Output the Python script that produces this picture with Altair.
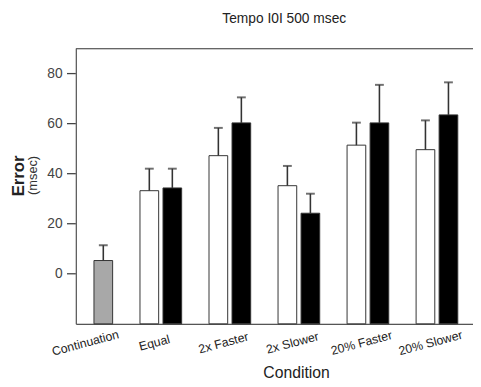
import altair as alt
import pandas as pd

conditions = ["Continuation", "Equal", "2x Faster", "2x Slower", "20% Faster", "20% Slower"]
# first series (white bars); Continuation has none
white_mean = [None, 33.2, 47.2, 35.2, 51.4, 49.6]
white_err = [None, 8.8, 11.1, 7.9, 9.0, 11.7]
# second series (black bars); Continuation drawn in gray in this slot
black_mean = [5.3, 34.3, 60.3, 24.2, 60.3, 63.5]
black_err = [6.1, 7.7, 10.2, 7.8, 15.2, 13.0]
y_ticks = [0, 20, 40, 60, 80]

rows = []
for i, c in enumerate(conditions):
    if white_mean[i] is not None:
        rows.append({"cond": c, "pos": i - 1 / 6, "group": "A",
                     "mean": white_mean[i], "top": white_mean[i] + white_err[i]})
    g = "C" if i == 0 else "B"
    rows.append({"cond": c, "pos": i + 1 / 6, "group": g,
                 "mean": black_mean[i], "top": black_mean[i] + black_err[i]})
df = pd.DataFrame(rows)

label_expr = "[" + ",".join("'" + c + "'" for c in conditions) + "][datum.value]"

xscale = alt.Scale(domain=[-0.16, 5.451], nice=False, zero=False)
yscale = alt.Scale(domain=[-20, 90], nice=False, zero=False)

x_axis = alt.Axis(
    values=list(range(len(conditions))), labelExpr=label_expr, labelAngle=345,
    ticks=False, grid=False, labelAlign="center", labelBaseline="middle",
    labelPadding=19, labelOffset=-7, labelFontSize=12.5, labelColor="#222",
    domainColor="#555", domainWidth=1.2,
    title="Condition", titleFontSize=16, titleFontWeight="normal", titleColor="#222",
    titleX=224, titleY=50, titleBaseline="middle", titleAlign="center")

y_axis = alt.Axis(
    values=y_ticks, ticks=False, labelPadding=14, labelFontSize=14,
    labelColor="#444", domainColor="#555", domainWidth=1.2,
    grid=False, title="Error", titleFontSize=17, titleFontWeight="bold",
    titleColor="#222", titleAngle=270, titleX=-58, titleY=129,
    titleAlign="center", titleBaseline="middle")

def X(f):
    return alt.X(f, scale=xscale, axis=x_axis)

def Y(f):
    return alt.Y(f, scale=yscale, axis=y_axis)

bars = alt.Chart(df).mark_bar(width=19, stroke="#333", strokeWidth=1).encode(
    x=X("pos:Q"), y=Y("mean:Q"), y2=alt.datum(-20),
    fill=alt.Fill("group:N", scale=alt.Scale(domain=["A", "B", "C"],
                                             range=["#ffffff", "#000000", "#a8a8a8"]),
                  legend=None))

stems = alt.Chart(df).mark_rule(color="#333", strokeWidth=1.6).encode(
    x=X("pos:Q"), y=Y("mean:Q"), y2="top:Q")

caps = alt.Chart(df).mark_tick(orient="horizontal", size=9, thickness=2, color="#333").encode(
    x=X("pos:Q"), y=Y("top:Q"))

border = alt.Chart(pd.DataFrame({"v": [90]})).mark_rule(color="#666", strokeWidth=1.2).encode(
    y=Y("v:Q"))

yticks = alt.Chart(pd.DataFrame({"t": y_ticks})).mark_rule(color="#444", strokeWidth=1.3).encode(
    y=Y("t:Q"), x=alt.value(-9), x2=alt.value(0))

unit = alt.Chart(pd.DataFrame({"t": ["(msec)"]})).mark_text(
    angle=270, fontSize=13, color="#333", align="center", baseline="middle").encode(
    text="t:N", x=alt.value(-44), y=alt.value(129))

chart = alt.layer(bars, stems, caps, border, yticks, unit).properties(
    width=404, height=280,
    autosize=alt.AutoSizeParams(type="none"),
    padding={"left": 69, "top": 38, "right": 0, "bottom": 61},
    title=alt.Title("Tempo I0I 500 msec", fontSize=14, fontWeight="normal",
                    color="#222", offset=22, dx=10),
).configure_view(stroke=None).configure(font="Liberation Sans")

chart.save("out.html", embed_options={"renderer": "svg", "actions": False})
